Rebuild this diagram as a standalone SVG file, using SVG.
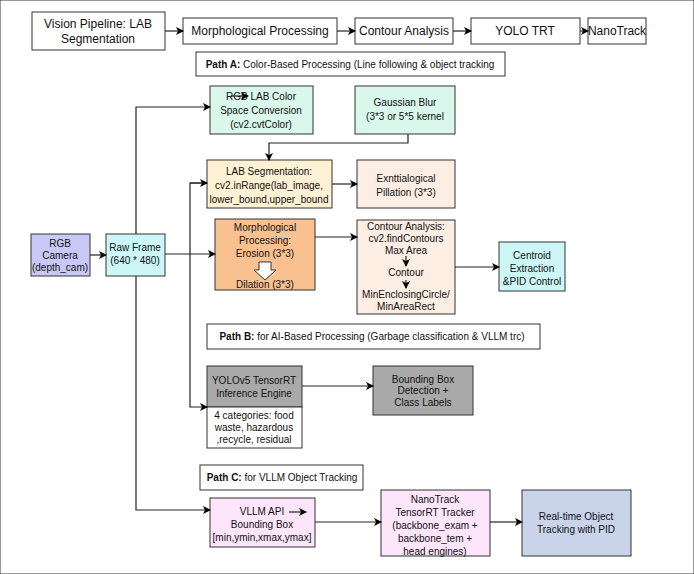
<svg xmlns="http://www.w3.org/2000/svg" width="694" height="574" viewBox="0 0 694 574">
<defs>
<marker id="ah" markerWidth="8" markerHeight="8" refX="7" refY="4" orient="auto" markerUnits="userSpaceOnUse"><path d="M0,0 L8,4 L0,8 L2,4 z" fill="#000"/></marker>
<style>
text{font-family:"Liberation Sans",Arial,sans-serif;font-size:10px;fill:#111;text-anchor:middle}
.big{font-size:12px}
rect{stroke:#333;stroke-width:1}
.c{fill:none;stroke:#222;stroke-width:1.2}
</style>
</defs>
<rect x="0" y="0" width="694" height="574" fill="#fff" stroke="none"/>
<g id="top">
<g id="t1"><rect x="32" y="12" width="133" height="38" fill="#fff"/><text class="big" x="98" y="28">Vision Pipeline: LAB</text><text class="big" x="98" y="43">Segmentation</text></g>
<g id="t2"><rect x="183" y="18" width="154" height="26" fill="#fff"/><text class="big" x="260" y="35">Morphological Processing</text></g>
<g id="t3"><rect x="355" y="18" width="98" height="26" fill="#fff"/><text class="big" x="404" y="35">Contour Analysis</text></g>
<g id="t4"><rect x="471" y="18" width="109" height="26" fill="#fff"/><text class="big" x="525" y="35">YOLO TRT</text></g>
<g id="t5"><rect x="588" y="18" width="58" height="26" fill="#fff"/><text class="big" x="617" y="35">NanoTrack</text></g>
</g>
<g id="pathA"><rect x="196" y="52" width="309" height="24" fill="#fff"/><text x="350" y="68"><tspan font-weight="bold">Path A:</tspan> Color-Based Processing (Line following &amp; object tracking</text></g>
<g id="rgb2lab"><rect x="210" y="86" width="103" height="48" fill="#d9f7ea"/><text x="261" y="100">RGB       LAB Color</text><text x="261" y="114">Space Conversion</text><text x="261" y="128">(cv2.cvtColor)</text></g>
<g id="gauss"><rect x="355" y="86" width="100" height="48" fill="#d9f7ea"/><text x="405" y="106">Gaussian Blur</text><text x="405" y="120">(3*3 or 5*5 kernel</text></g>
<g id="labseg"><rect x="207" y="160" width="125" height="48" fill="#fff2d4"/><text x="269" y="175">LAB Segmentation:</text><text x="269" y="189">cv2.inRange(lab_image,</text><text x="269" y="203">lower_bound,upper_bound</text></g>
<g id="exnt"><rect x="357" y="160" width="98" height="48" fill="#fdeee4"/><text x="406" y="182">Exnttialogical</text><text x="406" y="196">Pillation (3*3)</text></g>
<g id="morph"><rect x="215" y="219" width="100" height="71" fill="#f9c18f"/><text x="265" y="231">Morphological</text><text x="265" y="244">Processing:</text><text x="265" y="257">Erosion (3*3)</text><path d="M259,262 h12 v8 h5 l-11,10 l-11,-10 h5 z" fill="#fff" stroke="#333"/><text x="265" y="288">Dilation (3*3)</text></g>
<g id="contour"><rect x="357" y="220" width="98" height="94" fill="#fdeee4"/><text x="406" y="230">Contour Analysis:</text><text x="406" y="242">cv2.findContours</text><text x="406" y="254">Max Area</text><text x="406" y="276">Contour</text><text x="406" y="298">MinEnclosingCircle/</text><text x="406" y="310">MinAreaRect</text></g>
<g id="centroid"><rect x="499" y="242" width="66" height="49" fill="#cdf7f7"/><text x="532" y="259">Centroid</text><text x="532" y="272">Extraction</text><text x="532" y="285">&amp;PID Control</text></g>
<g id="camera"><rect x="31" y="234" width="59" height="42" fill="#c9c9f7"/><text x="60" y="247">RGB</text><text x="60" y="259">Camera</text><text x="60" y="271">(depth_cam)</text></g>
<g id="raw"><rect x="106" y="234" width="59" height="42" fill="#cdf7f7"/><text x="135" y="251">Raw Frame</text><text x="135" y="264">(640 * 480)</text></g>
<g id="pathB"><rect x="207" y="324" width="333" height="25" fill="#fff"/><text x="372" y="340"><tspan font-weight="bold">Path B:</tspan> for AI-Based Processing (Garbage classification &amp; VLLM trc)</text></g>
<g id="yolo"><rect x="207" y="366" width="95" height="41" fill="#a9a9a9"/><rect x="207" y="407" width="95" height="41" fill="#fff"/><text x="254" y="384">YOLOv5 TensorRT</text><text x="254" y="397">Inference Engine</text><text x="254" y="419">4 categories: food</text><text x="254" y="431">waste, hazardous</text><text x="254" y="443">,recycle, residual</text></g>
<g id="bbox"><rect x="373" y="366" width="100" height="49" fill="#a9a9a9"/><text x="423" y="383">Bounding Box</text><text x="423" y="394">Detection +</text><text x="423" y="406">Class Labels</text></g>
<g id="pathC"><rect x="200" y="465" width="163" height="25" fill="#fff"/><text x="282" y="481"><tspan font-weight="bold">Path C:</tspan> for VLLM Object Tracking</text></g>
<g id="vllm"><rect x="210" y="498" width="105" height="49" fill="#fde6fb"/><text x="262" y="515">VLLM API        </text><text x="262" y="528">Bounding Box</text><text x="262" y="541">[min,ymin,xmax,ymax]</text></g>
<g id="nano"><rect x="381" y="490" width="109" height="66" fill="#fde6fb"/><text x="435" y="503">NanoTrack</text><text x="435" y="516">TensorRT Tracker</text><text x="435" y="529">(backbone_exam +</text><text x="435" y="542">backbone_tem +</text><text x="435" y="555">head engines)</text></g>
<g id="rt"><rect x="522" y="490" width="109" height="66" fill="#c9d4ea"/><text x="576" y="520">Real-time Object</text><text x="576" y="533">Tracking with PID</text></g>
<g id="connectors" class="c">
<path d="M165,31 H183" marker-end="url(#ah)"/>
<path d="M337,31 H355" marker-end="url(#ah)"/>
<path d="M453,31 H471" marker-end="url(#ah)"/>
<path d="M580,31 H588" marker-end="url(#ah)"/>
<path d="M231,96 H248" marker-end="url(#ah)"/>
<path d="M408,134 V143 H269 V160" marker-end="url(#ah)"/>
<path d="M332,184 H357" marker-end="url(#ah)"/>
<path d="M315,237 H357" marker-end="url(#ah)"/>
<path d="M406,256 V266" marker-end="url(#ah)"/>
<path d="M406,280 V288" marker-end="url(#ah)"/>
<path d="M455,267 H499" marker-end="url(#ah)"/>
<path d="M90,255 H106" marker-end="url(#ah)"/>
<path d="M136,234 V107 H210" marker-end="url(#ah)"/>
<path d="M136,276 V510 H210" marker-end="url(#ah)"/>
<path d="M165,254 H215" marker-end="url(#ah)"/>
<path d="M207,183 H190 V407 H207" marker-end="url(#ah)"/>
<path d="M190,183 H207" marker-end="url(#ah)"/>
<path d="M302,386 H373" marker-end="url(#ah)"/>
<path d="M289,512 H306" marker-end="url(#ah)"/>
<path d="M315,522 H381" marker-end="url(#ah)"/>
<path d="M490,522 H522" marker-end="url(#ah)"/>
</g>
</svg>
